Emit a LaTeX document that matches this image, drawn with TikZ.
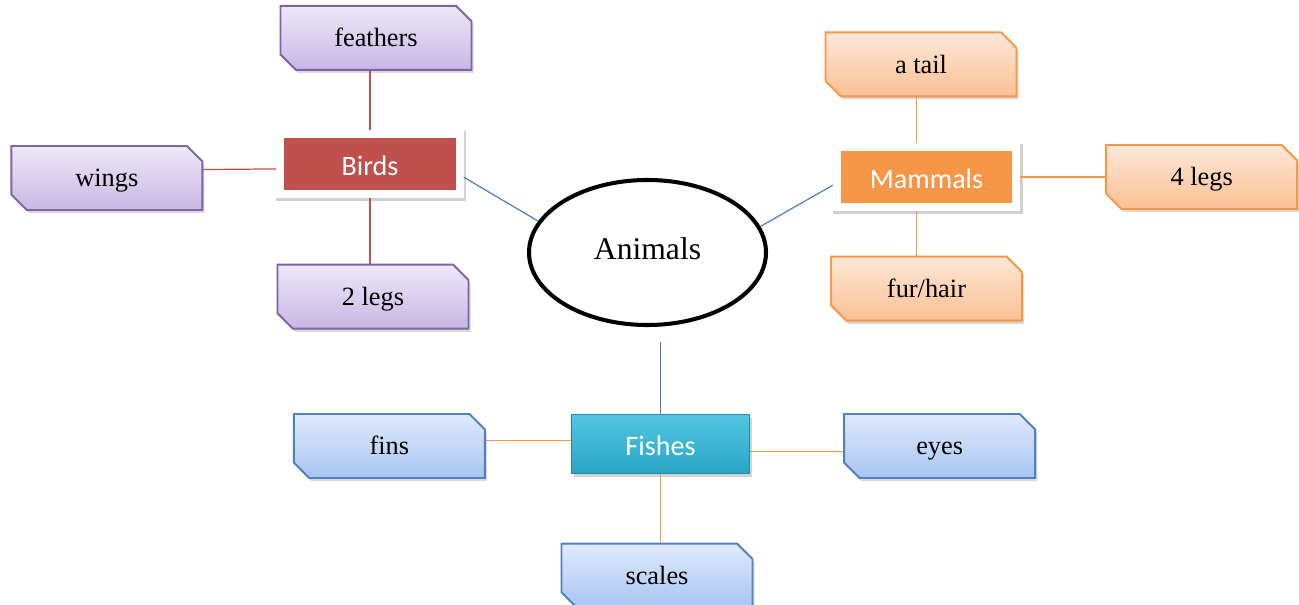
\documentclass[tikz,border=0pt]{standalone}
\usepackage{fontspec}
\setmainfont{Liberation Serif}
\newfontfamily\catfont{Carlito}
\usepackage{tikz}
\usetikzlibrary{shapes.geometric, shapes.misc, shadows, positioning}
\definecolor{birdred}{HTML}{C0504D}
\definecolor{birdline}{HTML}{8064A2}
\definecolor{birdtop}{HTML}{EEE8F8}
\definecolor{birdbot}{HTML}{C8B7E5}
\definecolor{mamorange}{HTML}{F79646}
\definecolor{mamtop}{HTML}{FDE8D8}
\definecolor{mambot}{HTML}{FBC093}
\definecolor{fishblue}{HTML}{4F81BD}
\definecolor{fishtop}{HTML}{E0EAFC}
\definecolor{fishbot}{HTML}{A8C5F3}
\definecolor{fishdark}{HTML}{1F8AA6}
\definecolor{fishlight}{HTML}{52C6E3}
\definecolor{fishmid}{HTML}{2AA4C4}
\tikzstyle{item} = [chamfered rectangle, chamfered rectangle corners={north east,south west}, chamfered rectangle xsep=0.2cm, minimum width=3.82cm, minimum height=1.28cm, line width=1.1pt, text centered, text height=13.5pt, text depth=3.3pt, font=\fontsize{15}{18}\selectfont, drop shadow={opacity=0.3, shadow xshift=1.2pt, shadow yshift=-1.8pt}]
\tikzstyle{birditem} = [item, draw=birdline, top color=birdtop, bottom color=birdbot]
\tikzstyle{mamitem} = [item, draw=mamorange, top color=mamtop, bottom color=mambot]
\tikzstyle{fishitem} = [item, draw=fishblue, top color=fishtop, bottom color=fishbot]
\tikzstyle{catbox} = [rectangle, minimum width=3.59cm, minimum height=1.19cm, draw=white, line width=4.5pt, text=white, text height=14.6pt, text depth=2pt, font=\catfont\fontsize{16}{19}\selectfont, drop shadow={opacity=0.18, shadow xshift=0.8pt, shadow yshift=-1.2pt, draw=black, line width=6pt}]
\tikzstyle{fishbox} = [rectangle, minimum width=3.56cm, minimum height=1.18cm, draw=fishdark, line width=0.8pt, top color=fishlight, bottom color=fishmid, text=white, text height=14.6pt, text depth=2pt, font=\catfont\fontsize{16}{19}\selectfont, drop shadow={opacity=0.35, shadow xshift=1.2pt, shadow yshift=-1.8pt}]
\tikzstyle{hub} = [ellipse, draw=black, line width=2.3pt, minimum width=4.74cm, minimum height=2.90cm, text height=12.5pt, text depth=5pt, font=\fontsize{18}{22}\selectfont]
\tikzstyle{redline} = [draw=birdred, line width=0.7pt]
\tikzstyle{blueline} = [draw=fishblue, line width=0.7pt]
\tikzstyle{orangeline} = [draw=mamorange, line width=0.7pt]

\begin{document}
\begin{tikzpicture}
	\useasboundingbox (0,0) rectangle (25.98,-12.1);
	
	\node (animals) [hub] at (12.95,-5.05) {Animals};
	
	\node (birds) [catbox, fill=birdred] at (7.40,-3.28) {Birds};
	\node (feathers) [birditem, above=1.19cm of birds, xshift=0.12cm] {feathers};
	\node (wings) [birditem, left=1.46cm of birds, yshift=-0.28cm] {wings};
	\node (twolegs) [birditem, below=1.32cm of birds, xshift=0.06cm] {2 legs};
	
	\node (mammals) [catbox, fill=mamorange] at (18.53,-3.54) {Mammals};
	\node (tail) [mamitem, above=0.92cm of mammals, xshift=-0.11cm] {a tail};
	\node (fourlegs) [mamitem, right=1.70cm of mammals] {4 legs};
	\node (fur) [mamitem, below=0.90cm of mammals] {fur/hair};
	
	\node (fishes) [fishbox] at (13.21,-8.88) {Fishes};
	\node (fins) [fishitem, left=1.70cm of fishes, yshift=-0.04cm] {fins};
	\node (eyes) [fishitem, right=1.86cm of fishes, yshift=-0.04cm] {eyes};
	\node (scales) [fishitem, below=1.37cm of fishes, xshift=-0.07cm] {scales};
	
	% links to the centre
	\draw [blueline] (birds.-8) -- (animals.164);
	\draw [blueline] (mammals.185) -- (animals.13);
	\draw [blueline, shorten <=0.29cm] (fishes.north |- animals.south) -- (fishes.north);
	
	\draw [redline] (birds.north) -- (birds.north |- feathers.south);
	\draw [redline] (wings.5) -- (birds.183);
	\draw [redline] (birds.south) -- (birds.south |- twolegs.north);
	
	\draw [orangeline] (mammals.106) -- (mammals.106 |- tail.south);
	\draw [orangeline] (mammals.east) -- (fourlegs.west);
	\draw [orangeline] (mammals.-106) -- (mammals.-106 |- fur.north);
	
	\draw [orangeline] (fishes.178) -- (fishes.178 -| fins.east);
	\draw [orangeline] (fishes.-5) -- (fishes.-5 -| eyes.west);
	\draw [orangeline] (fishes.south) -- (fishes.south |- scales.north);
	
\end{tikzpicture}
\end{document}
